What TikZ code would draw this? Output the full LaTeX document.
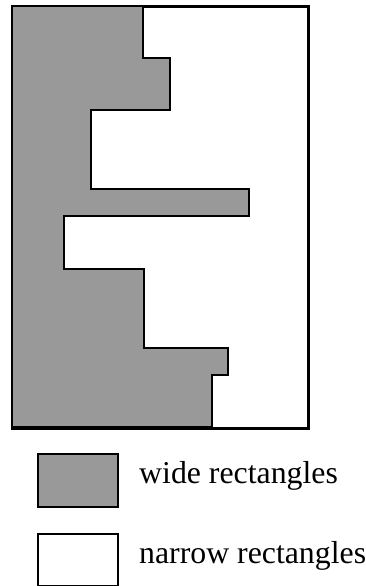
\documentclass[tikz,border=0pt]{standalone}
\usepackage{fontspec}
\setmainfont{Liberation Serif}
\begin{document}
\begin{tikzpicture}[x=1pt,y=-1pt,
  wide/.style={fill=black!40,draw=black,line width=2pt,line join=miter},
  narrow/.style={fill=white,draw=black,line width=2pt},
  legendtext/.style={anchor=base west,inner sep=0pt,font=\fontsize{31.8}{36}\selectfont}]
\useasboundingbox (0,0) rectangle (365,586);
% outer frame holding the narrow rectangles
\node[narrow,minimum width=295pt,minimum height=421pt,inner sep=0pt,anchor=north west] (frame) at (12,6) {};
% stacked wide rectangles along the left edge
\draw[wide] (12,6) -- (143,6) -- (143,58) -- (170,58) -- (170,110) -- (91,110)
  -- (91,189) -- (249,189) -- (249,216) -- (64,216) -- (64,269) -- (144,269)
  -- (144,348) -- (228,348) -- (228,375) -- (212,375) -- (212,427) -- (12,427) -- cycle;
\draw[black,line width=2pt] (frame.north west) rectangle (frame.south east);
% legend
\node[wide,minimum width=80pt,minimum height=53pt,inner sep=0pt,anchor=north west] (kwide) at (37,453) {};
\node[legendtext] (twide) at (139,483) {wide rectangles};
\node[narrow,minimum width=80pt,minimum height=52pt,inner sep=0pt,anchor=north west] (knarrow) at (37,533) {};
\node[legendtext] (tnarrow) at (139,563) {narrow rectangles};
\end{tikzpicture}
\end{document}
